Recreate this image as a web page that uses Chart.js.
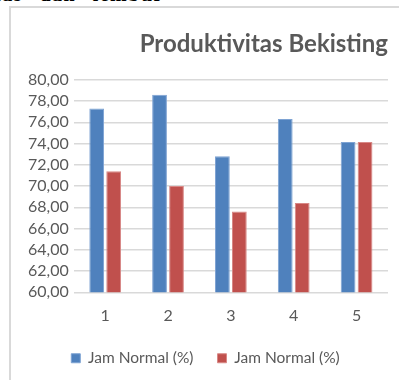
<!DOCTYPE html>
<html>
<head>
<meta charset="utf-8">
<script src="https://cdn.jsdelivr.net/npm/chart.js@4"></script>
<style>
  html, body { margin: 0; padding: 0; background: #fff; overflow: hidden; }
  body { width: 399px; height: 380px; position: relative; }
  #cut {
    position: absolute; left: -6px; top: -17px;
    font: bold 20px "Liberation Serif", serif; color: #000; white-space: nowrap;
    word-spacing: 10px; letter-spacing: 1.5px;
  }
  #box {
    position: absolute; left: 9px; top: 6px; width: 390px; height: 374px;
    border-left: 2px solid #d9d9d9; border-top: 2px solid #d9d9d9;
  }
  #chart { display: block; }
</style>
</head>
<body>
<div id="cut">tas dan lembur</div>
<div id="box"><canvas id="chart" width="388" height="372"></canvas></div>
<script>
// data grafik
const categories = ['1', '2', '3', '4', '5'];
const seriesA = [77.3, 78.6, 72.8, 76.3, 74.15];
const seriesB = [71.4, 70.0, 67.6, 68.4, 74.15];
const seriesNames = ['Jam Normal (%)', 'Jam Normal (%)'];
const yTicks = [60, 62, 64, 66, 68, 70, 72, 74, 76, 78, 80];

const textColor = '#595959';
const fontFamily = 'Lato, "Open Sans", sans-serif';

new Chart(document.getElementById('chart').getContext('2d'), {
  type: 'bar',
  data: {
    labels: categories,
    datasets: [{
      label: seriesNames[0],
      data: seriesA,
      backgroundColor: '#4f81bd',
      borderColor: '#7ea3d3',
      borderWidth: 1
    }, {
      label: seriesNames[1],
      data: seriesB,
      backgroundColor: '#c0504d',
      borderColor: '#d88886',
      borderWidth: 1
    }]
  },
  options: {
    responsive: false,
    animation: false,
    layout: { padding: { left: 12, right: 11, top: 0, bottom: 4 } },
    datasets: { bar: { categoryPercentage: 0.54, barPercentage: 0.87 } },
    plugins: {
      title: {
        display: true,
        text: 'Produktivitas Bekisting',
        align: 'end',
        color: textColor,
        font: { family: fontFamily, size: 24, weight: 'bold' },
        padding: { top: 22, bottom: 21 }
      },
      legend: {
        position: 'bottom',
        labels: {
          color: textColor,
          font: { family: fontFamily, size: 15.5 },
          boxWidth: 9,
          boxHeight: 9,
          padding: 24
        }
      },
      tooltip: { enabled: false }
    },
    scales: {
      x: {
        grid: { display: false, drawTicks: false },
        border: { display: false },
        ticks: { color: textColor, font: { family: fontFamily, size: 16 }, padding: 14 },
        // a bit less room under the labels, so the legend sits closer
        afterFit: scale => { scale.height -= 13; }
      },
      y: {
        min: yTicks[0],
        max: yTicks[yTicks.length - 1],
        afterBuildTicks: axis => { axis.ticks = yTicks.map(v => ({ value: v })); },
        grid: { color: '#d9d9d9', lineWidth: 1.5, drawTicks: false },
        border: { display: false },
        ticks: {
          color: textColor,
          font: { family: fontFamily, size: 16 },
          padding: 5,
          autoSkip: false,
          callback: v => v.toFixed(2).replace('.', ',')
        }
      }
    }
  }
});
</script>
</body>
</html>
